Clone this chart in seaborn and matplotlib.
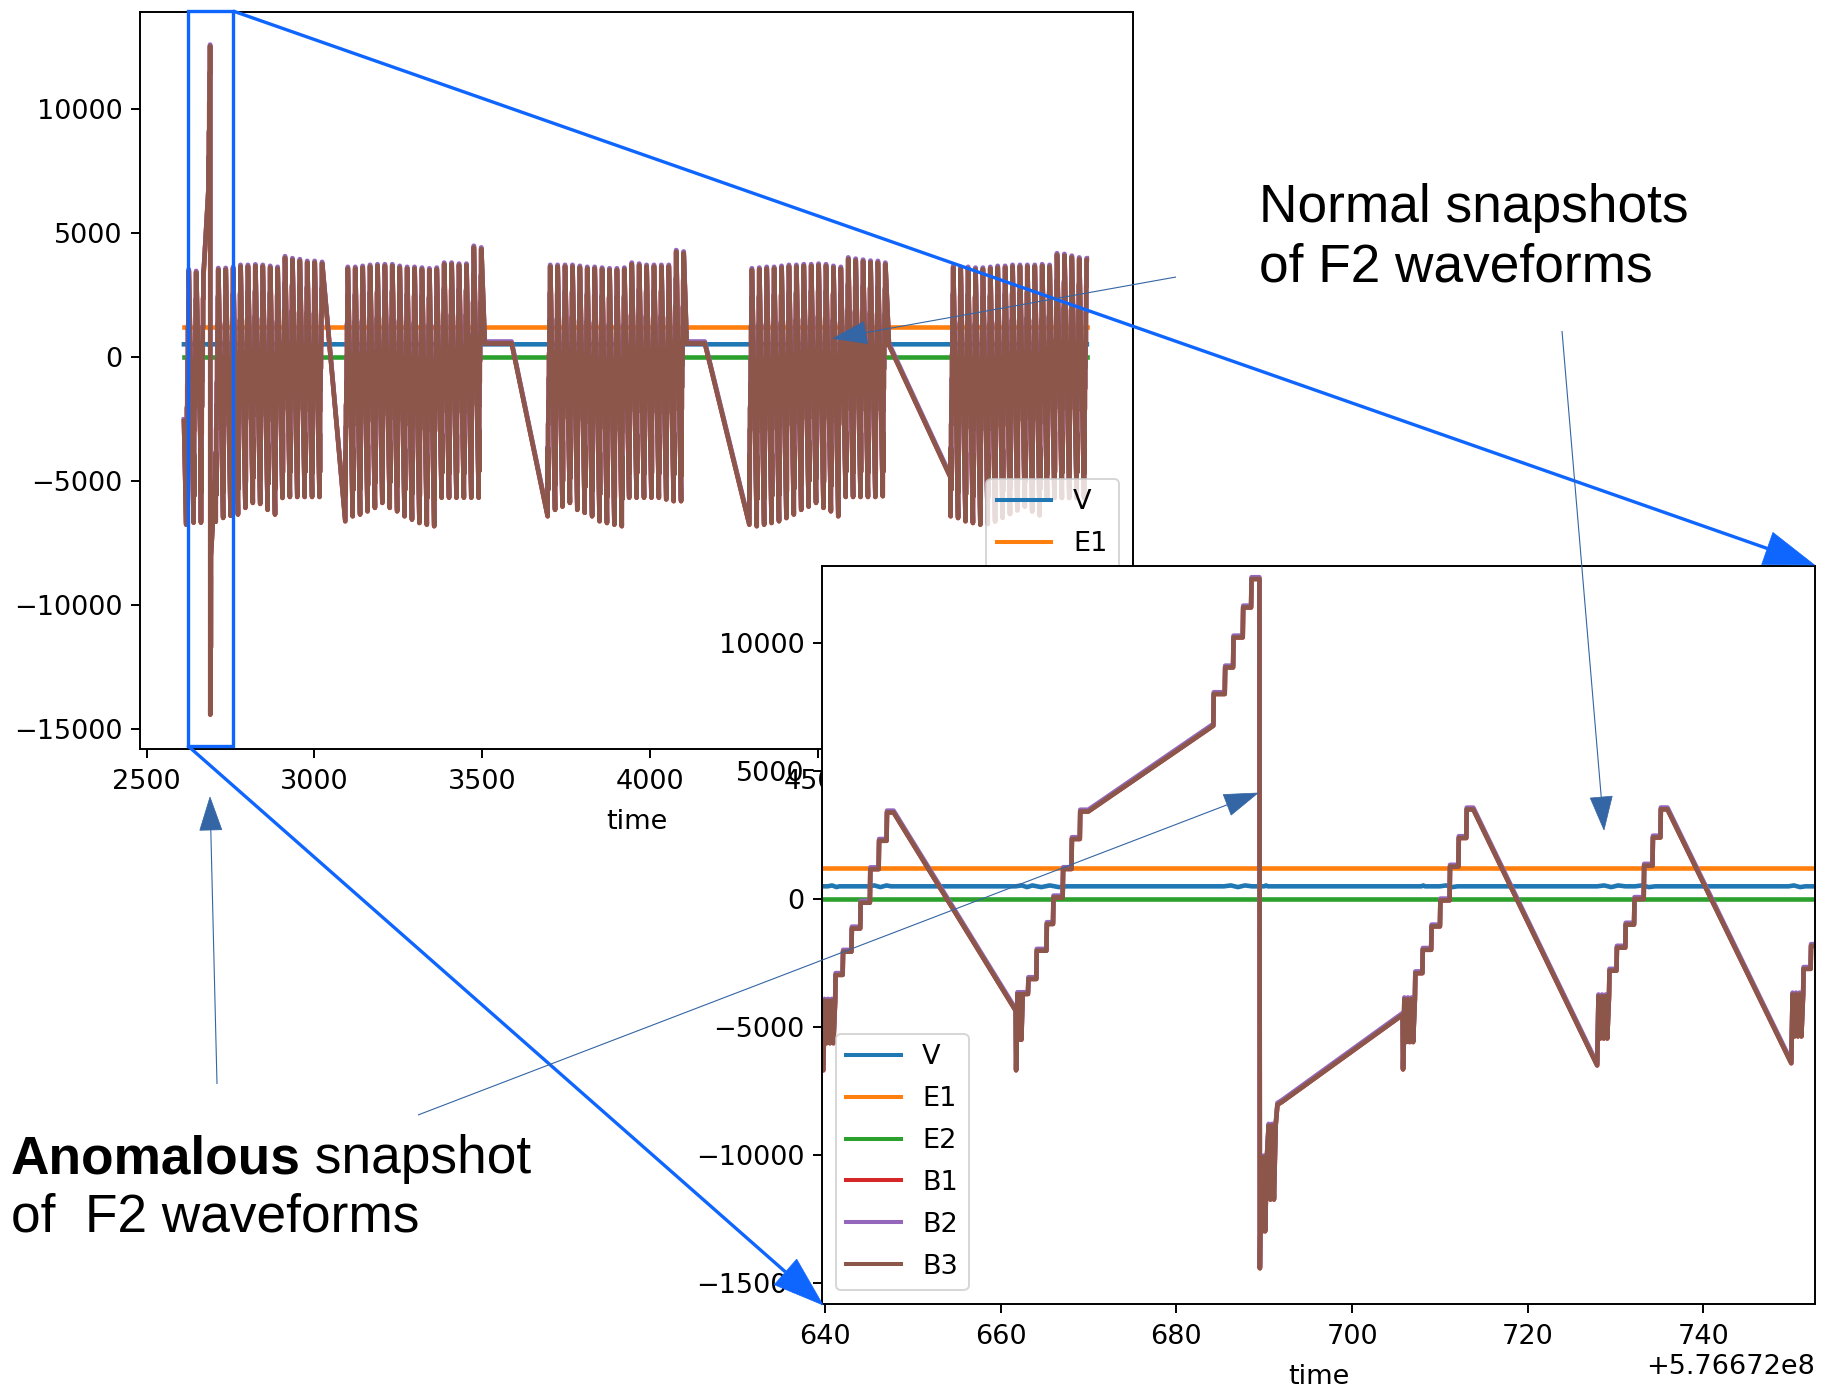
import numpy as np
import pandas as pd
import matplotlib
matplotlib.use("Agg")
import matplotlib.pyplot as plt
from matplotlib.patches import Rectangle, Polygon
import seaborn as sns

# ---------------------------------------------------------------- data
SERIES = ["V", "E1", "E2", "B1", "B2", "B3"]
COLORS = sns.color_palette("tab10", 6)

TIME_BASE = 576670000.0          # absolute time = relative time + TIME_BASE
PERIOD = 22.1                    # seconds between successive ramps

# one ramp cycle (seconds from its start) for a trough of -6500 and a peak of 3500
CYCLE_DT = [0.00, 0.15, 0.35, 0.55, 0.75, 0.95, 1.15, 1.35, 1.40, 2.20, 2.25,
            3.20, 3.25, 4.20, 4.25, 5.30, 5.35, 6.30, 6.35, 7.20, 7.25, 8.00]
CYCLE_LEVEL = [-6500, -3800, -5450, -3800, -5450, -3800, -5450, -3800, -2800, -2800, -1900,
               -1900, -1000, -1000, 0, 0, 1300, 1300, 2400, 2400, 3500, 3500]

LEAD_T, LEAD_V = [2611.0], [-2600]

BURST1A_START = 2617.7
BURST1A_PEAK = [3450, 3385]
BURST1A_TROUGH = [-6777, -6697]

# the anomalous snapshot
ANOM_T = [2661.7, 2661.75, 2661.9, 2662.05, 2662.2, 2662.35, 2662.5, 2663.1, 2663.15, 2664.05,
          2664.1, 2665.2, 2665.25, 2665.95, 2666.0, 2667.05, 2667.1, 2668.05, 2668.1, 2669.0,
          2669.05, 2669.96, 2684.2, 2684.25, 2685.5, 2685.55, 2686.45, 2686.5, 2687.55, 2687.6,
          2688.5, 2688.55, 2689.45, 2689.5, 2689.65, 2689.8, 2689.95, 2690.1, 2690.3, 2690.5,
          2690.7, 2690.9, 2691.1, 2691.3, 2691.5, 2692.0, 2705.75]
ANOM_V = [-4366, -6697, -3714, -5500, -3714, -5500, -3714, -3714, -3127, -3127,
          -2021, -2021, -977, -977, 63, 63, 1173, 1173, 2345, 2345,
          3420, 3420, 6774, 8013, 8013, 9053, 9053, 10226, 10226, 11398,
          11398, 12509, 12509, -14436, -10100, -12990, -10100, -12990, -10100, -8860,
          -11750, -8860, -11750, -8860, -8040, -7935, -4527]

BURST1B_START = 2705.8
BURST1B_PEAK = [3503, 3507, 3550, 3630, 3630, 3650, 3630, 3590, 3550, 3980, 3900, 3860, 3790, 3790, 3750]
BURST1B_TROUGH = [-6661, -6505, -6420, -6370, -6100, -5900, -5940, -6180, -6370, -5700, -5660, -5660,
                  -5660, -5660, -5660]

BURST2_START = 3092.0
BURST2_PEAK = [3550, 3550, 3590, 3630, 3657, 3657, 3657, 3590, 3550, 3550, 3520, 3490, 3520, 3720,
               3720, 3680, 3680, 4400, 4334]
BURST2_TROUGH = [-6640, -6440, -6370, -6240, -6100, -5900, -6100, -6240, -6440, -6575, -6710, -6777,
                 -6840, -5690, -5690, -5690, -5690, -5690, -5690]
GAP2_T, GAP2_V = [3508.0, 3588.0], [540, 540]

BURST3_START = 3695.4
BURST3_PEAK = [3630, 3630, 3630, 3630, 3590, 3550, 3550, 3520, 3493, 3493, 3520, 3720, 3680, 3630,
               3630, 3630, 3630, 4225, 4170]
BURST3_TROUGH = [-6440, -6180, -6050, -5900, -6180, -6300, -6440, -6640, -6710, -6777, -6840, -5690,
                 -5690, -5690, -5690, -5690, -5760, -5830, -5830]
GAP3_T, GAP3_V = [4110.0, 4164.0], [540, 540]

BURST4_START = 4296.7
BURST4_PEAK = [3493, 3520, 3550, 3550, 3590, 3630, 3630, 3657, 3657, 3680, 3657, 3590, 3550, 3930,
               3880, 3840, 3800, 3790, 3720]
BURST4_TROUGH = [-6777, -6840, -6777, -6710, -6640, -6510, -6370, -6180, -6050, -5900, -6100, -6240,
                 -6440, -5660, -5660, -5660, -5660, -5660, -5630]
GAP4_T, GAP4_V = [4713.0, 4896.8], [470, -4880]

BURST5_START = 4897.0
BURST5_PEAK = [3590, 3550, 3550, 3520, 3520, 3550, 3590, 3590, 3630, 3630, 3630, 3630, 3657, 3630,
               4100, 4070, 4000, 3930, 3900]
BURST5_TROUGH = [-6440, -6510, -6640, -6710, -6777, -6750, -6650, -6500, -6350, -6200, -6050, -6250,
                 -6400, -5700, -5700, -5700, -5700, -5700, -5700]

B2_OFFSET = 70          # B2 runs just above B3; B1 lies under B3

V_T = [2611, 2640.3, 2640.8, 2641.3, 2641.6, 2644.9, 2645.6, 2646.3, 2647.0, 2647.5, 2661.7, 2662.4,
       2663.0, 2663.6, 2664.6, 2665.6, 2666.6, 2667.5, 2685.4, 2686.2, 2687.0, 2687.8, 2688.6, 2690.0,
       2690.2, 2690.4, 2707.9, 2708.1, 2708.3, 2710.0, 2710.7, 2711.4, 2712.0, 2727.9, 2728.7, 2729.5,
       2730.3, 2731.1, 2732.2, 2733.0, 2733.8, 2734.5, 2749.7, 2750.3, 2751.0, 2751.6, 5303]
V_VAL = [495, 495, 530, 465, 495, 495, 530, 465, 530, 495, 495, 530, 465, 530, 465, 530, 465, 495,
         495, 530, 465, 530, 495, 495, 530, 495, 495, 530, 495, 495, 530, 465, 495, 495, 530, 465,
         530, 495, 495, 530, 465, 495, 495, 530, 465, 495, 495]
E1_T, E1_VAL = [2611, 5303], [1212, 1212]
E2_T, E2_VAL = [2611, 5303], [0, 0]


def burst(start, peaks, troughs):
    """Lay the cycle shape out once per ramp, stretched to each ramp's trough and peak."""
    lo, hi = CYCLE_LEVEL[0], max(CYCLE_LEVEL)
    ts, vs = [], []
    for i, (pk, tr) in enumerate(zip(peaks, troughs)):
        t0 = start + i * PERIOD
        s = (pk - tr) / (hi - lo)
        for dt, lv in zip(CYCLE_DT, CYCLE_LEVEL):
            ts.append(t0 + dt)
            vs.append(tr + (lv - lo) * s)
    return ts, vs


pieces = [
    (LEAD_T, LEAD_V),
    burst(BURST1A_START, BURST1A_PEAK, BURST1A_TROUGH),
    (ANOM_T, ANOM_V),
    burst(BURST1B_START, BURST1B_PEAK, BURST1B_TROUGH),
    burst(BURST2_START, BURST2_PEAK, BURST2_TROUGH),
    (GAP2_T, GAP2_V),
    burst(BURST3_START, BURST3_PEAK, BURST3_TROUGH),
    (GAP3_T, GAP3_V),
    burst(BURST4_START, BURST4_PEAK, BURST4_TROUGH),
    (GAP4_T, GAP4_V),
    burst(BURST5_START, BURST5_PEAK, BURST5_TROUGH),
]
b_time = np.concatenate([np.asarray(p[0], float) for p in pieces])
b3 = np.concatenate([np.asarray(p[1], float) for p in pieces])

frames = {
    "V": pd.DataFrame({"time": V_T, "value": V_VAL}),
    "E1": pd.DataFrame({"time": E1_T, "value": E1_VAL}),
    "E2": pd.DataFrame({"time": E2_T, "value": E2_VAL}),
    "B1": pd.DataFrame({"time": b_time, "value": b3}),
    "B2": pd.DataFrame({"time": b_time, "value": b3 + B2_OFFSET}),
    "B3": pd.DataFrame({"time": b_time, "value": b3}),
}

# ---------------------------------------------------------------- style
FS = 19.5
LW = 3.3
plt.rcParams.update({
    "font.family": ["DejaVu Sans"],
    "font.size": FS,
    "axes.linewidth": 1.4,
    "xtick.major.size": 6.3, "ytick.major.size": 6.3,
    "xtick.major.width": 1.4, "ytick.major.width": 1.4,
    "xtick.major.pad": 8.0, "ytick.major.pad": 6.3,
    "axes.labelpad": 10.0,
    "legend.fontsize": FS,
})

W, H = 1826, 1388
fig = plt.figure(figsize=(W / 100, H / 100), dpi=100, facecolor="white")


def px_axes(left, top, right, bottom, **kw):
    return fig.add_axes([left / W, 1 - bottom / H, (right - left) / W, (bottom - top) / H], **kw)


def draw_waveforms(ax, shift, loc):
    for name, col in zip(SERIES, COLORS):
        d = frames[name]
        sns.lineplot(x=d["time"] + shift, y=d["value"], color=col, lw=LW, label=name,
                     estimator=None, sort=False, ax=ax)
    ax.set_xlabel("time", fontsize=FS)
    ax.set_ylabel("")
    ax.tick_params(labelsize=FS)
    leg = ax.legend(loc=loc, fontsize=FS, labelspacing=0.585)
    leg.get_frame().set_linewidth(1.4)
    for h in leg.get_lines():
        h.set_linewidth(2.9)


# overview of the whole record
ax_main = px_axes(140, 11.6, 1133, 749, zorder=1)
draw_waveforms(ax_main, 0.0, "lower right")
ax_main.set_xlim(2480, 5440.6)
ax_main.set_ylim(-15823, 13911)

# zoom on the anomalous snapshot, in absolute time
ax_zoom = px_axes(822, 566, 1815, 1304, zorder=2)
ax_zoom.set_facecolor("white")
draw_waveforms(ax_zoom, TIME_BASE, "lower left")
ax_zoom.set_xlim(TIME_BASE + 2639.65, TIME_BASE + 2752.7)
ax_zoom.set_ylim(-15833, 13018)

# ---------------------------------------------------------------- call-outs
ax_ov = fig.add_axes([0, 0, 1, 1], zorder=3)
ax_ov.set_xlim(0, W)
ax_ov.set_ylim(H, 0)
ax_ov.patch.set_alpha(0)
ax_ov.axis("off")

BRIGHT = "#0f66ff"
STEEL = "#3465a4"


def arrow(tail, tip, color, lw, head_len, head_w):
    tail = np.asarray(tail, float)
    tip = np.asarray(tip, float)
    d = tip - tail
    u = d / np.hypot(*d)
    n = np.array([-u[1], u[0]])
    base = tip - u * head_len
    ax_ov.plot([tail[0], base[0]], [tail[1], base[1]], color=color, lw=lw, solid_capstyle="butt")
    ax_ov.add_patch(Polygon([tip, base + n * head_w / 2, base - n * head_w / 2],
                            closed=True, facecolor=color, edgecolor=color, lw=0.5))


ax_ov.add_patch(Rectangle((187.5, 11), 45.5, 734.5, fill=False, edgecolor=BRIGHT, lw=2.4))
arrow((233, 11), (1814.5, 565), BRIGHT, 2.4, 50, 34)
arrow((187.5, 745.5), (823, 1305), BRIGHT, 2.4, 50, 34)

arrow((1176, 277), (833, 338.5), STEEL, 0.8, 33, 22)
arrow((1562, 331), (1604, 830), STEEL, 0.8, 33, 22)
arrow((217, 1084), (210, 797), STEEL, 0.8, 33, 22)
arrow((418, 1115), (1258, 793), STEEL, 0.8, 33, 22)

TFS = 38.3
TXT = dict(fontsize=TFS, family=["Liberation Sans", "DejaVu Sans"], color="black", va="baseline")
ax_ov.text(1259, 222, "Normal snapshots", **TXT)
ax_ov.text(1259, 281, "of F2 waveforms", **TXT)
bold = ax_ov.text(10.6, 1173, "Anomalous", fontweight="bold", **TXT)
ax_ov.annotate(" snapshot", xy=(1, 0), xycoords=bold, ha="left", va="bottom",
               fontsize=TFS, family=["Liberation Sans", "DejaVu Sans"], color="black")
ax_ov.text(10.6, 1231, "of  F2 waveforms", **TXT)

fig.savefig("out.png", dpi=100, facecolor="white")
